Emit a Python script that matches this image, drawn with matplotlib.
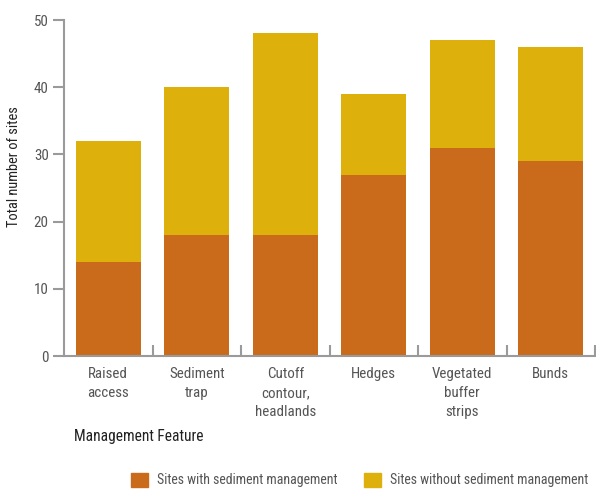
import matplotlib
matplotlib.use("Agg")
import matplotlib.pyplot as plt
from matplotlib.patches import Patch
from matplotlib import font_manager
import numpy as np

categories = ["Raised\naccess", "Sediment\ntrap", "Cutoff\ncontour,\nheadlands", "Hedges",
              "Vegetated\nbuffer\nstrips", "Bunds"]
with_mgmt = [14, 18, 18, 27, 31, 29]
without_mgmt = [18, 22, 30, 12, 16, 17]
yticks = [0, 10, 20, 30, 40, 50]

# pick a condensed font if one is installed
fam, stretch, scale = 'DejaVu Sans', 'normal', 0.82
cands = []
for f in font_manager.fontManager.ttflist:
    st = str(f.stretch).lower()
    nm = f.name
    if ('condensed' in st or 'narrow' in nm.lower() or 'condensed' in nm.lower()
            or (isinstance(f.stretch, int) and f.stretch < 500)):
        cands.append((nm, f.stretch))
pref = ['Liberation Sans Narrow', 'Roboto Condensed', 'Open Sans Condensed', 'DejaVu Sans']
for p in pref:
    for nm, st in cands:
        if nm == p:
            fam, stretch, scale = nm, st, 1.0
            break
    if scale == 1.0:
        break

plt.rcParams['font.family'] = [fam, 'DejaVu Sans']
plt.rcParams['font.stretch'] = stretch

c_with = "#C96B1B"
c_without = "#DDB00B"
axis_col = "#9a9a9a"
text_col = "#555555"

fs_tick = 10.8 * scale
fs_leg = 10.0 * scale
fig = plt.figure(figsize=(5.96, 4.96), dpi=100)
ax = fig.add_axes([64/596, 1-356/496, (595-64)/596, (356-20)/496])

x = np.arange(len(categories))
w = 0.73
ax.bar(x, with_mgmt, width=w, color=c_with, zorder=2)
ax.bar(x, without_mgmt, width=w, bottom=with_mgmt, color=c_without, zorder=2)

ax.set_xlim(-0.5, len(categories) - 0.5)
ax.set_ylim(0, 50)
ax.set_yticks(yticks)
ax.set_yticklabels([str(v) for v in yticks], fontsize=fs_tick, color=text_col)
ax.set_xticks(x)
ax.set_xticklabels(categories, fontsize=fs_tick, color=text_col, va='top', linespacing=1.45)
ax.tick_params(axis='x', length=0, pad=8)
ax.tick_params(axis='y', length=8, width=1.5, color=axis_col, pad=3)
ax.set_xticks(np.arange(len(categories)) + 0.5, minor=True)
ax.tick_params(axis='x', which='minor', direction='in', length=8, width=1.5, color=axis_col)

for s in ['top', 'right']:
    ax.spines[s].set_visible(False)
for s in ['left', 'bottom']:
    ax.spines[s].set_color(axis_col)
    ax.spines[s].set_linewidth(1.5)

ax.set_ylabel("Total number of sites", fontsize=10.4 * scale, color="#222222")
ax.yaxis.set_label_coords((21 - 64) / 531, (356 - 167) / 336)
fig.text(74/596, 1-437/496, "Management Feature", fontsize=11.2 * scale, color="#222222",
         ha='left', va='center')

handles = [Patch(color=c_with, label="Sites with sediment management"),
           Patch(color=c_without, label="Sites without sediment management")]
fig.legend(handles=handles, loc='center left', bbox_to_anchor=(131/596, 1-480/496), ncol=2,
           frameon=False, fontsize=fs_leg, handlelength=1.22, handleheight=1.22,
           columnspacing=1.9, handletextpad=0.65, labelcolor=text_col,
           borderpad=0, borderaxespad=0)

fig.savefig("out.png", dpi=100)
